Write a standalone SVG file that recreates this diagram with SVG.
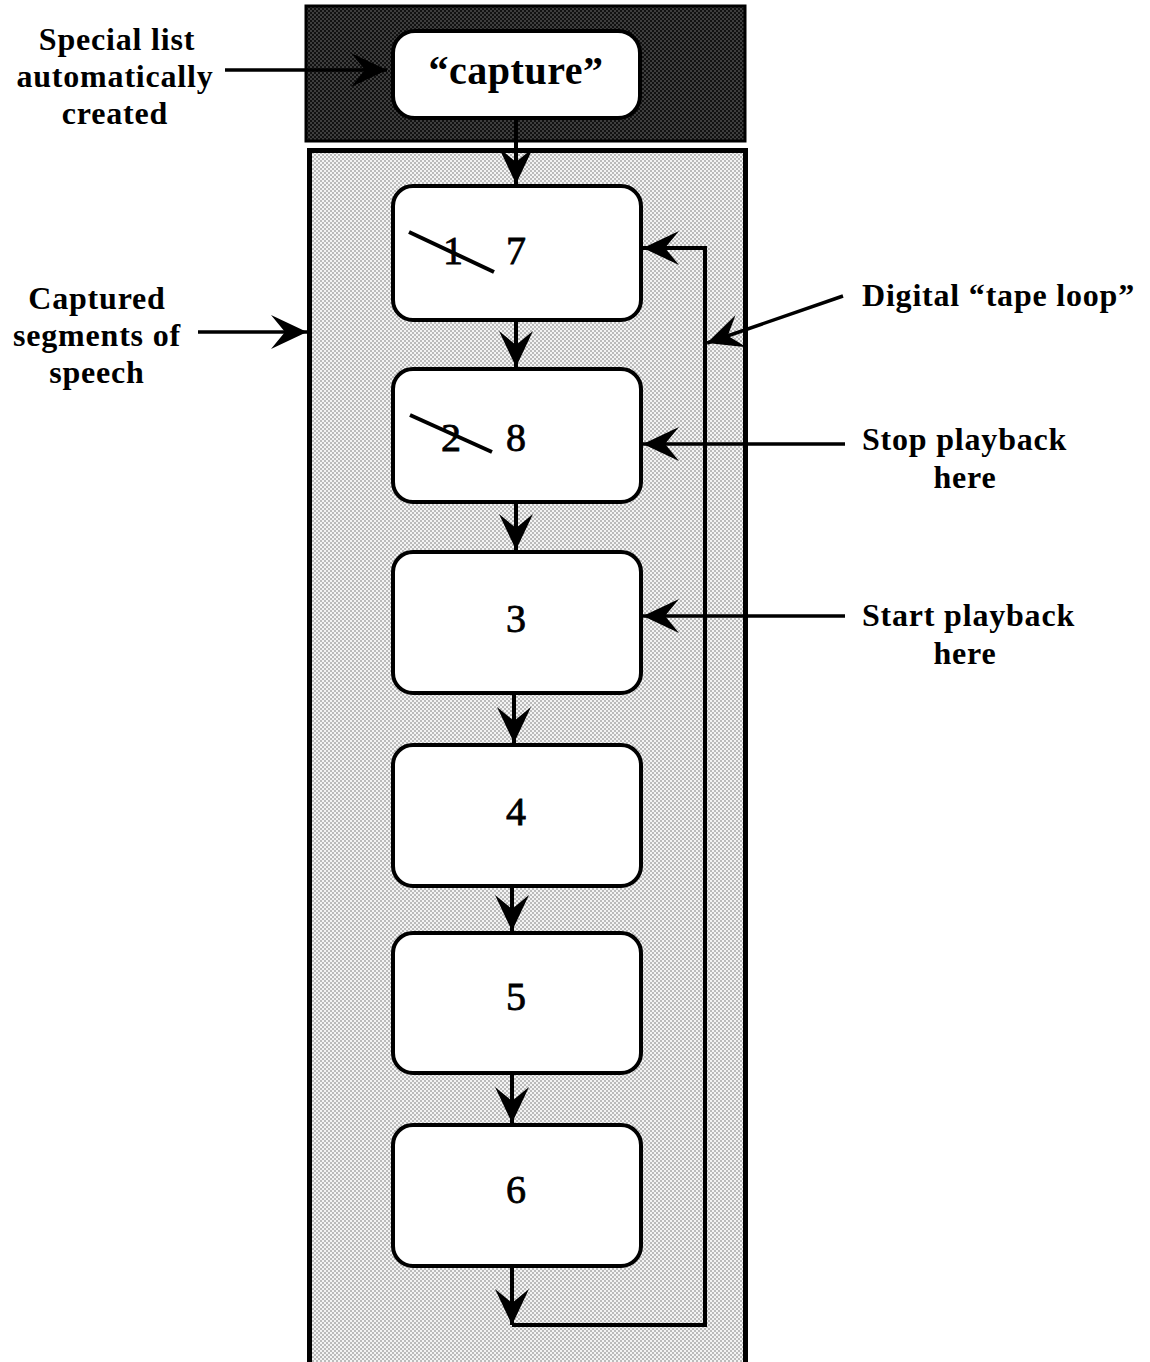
<svg xmlns="http://www.w3.org/2000/svg" width="1150" height="1362" viewBox="0 0 1150 1362">
<defs>
<pattern id="lightDots" width="4" height="4" patternUnits="userSpaceOnUse">
<rect width="4" height="4" fill="#f4f4f4"/>
<circle cx="1" cy="1" r="0.75" fill="#666"/>
<circle cx="3" cy="3" r="0.75" fill="#666"/>
</pattern>
<pattern id="darkDots" width="4" height="4" patternUnits="userSpaceOnUse">
<rect width="4" height="4" fill="#111"/>
<circle cx="1" cy="1" r="0.8" fill="#777"/>
<circle cx="3" cy="3" r="0.8" fill="#777"/>
</pattern>
<marker id="arr" viewBox="-40 -20 42 40" refX="0" refY="0" markerWidth="42" markerHeight="40" markerUnits="userSpaceOnUse" orient="auto">
<path d="M0,0 L-36,-17 L-22,0 L-36,17 Z" fill="#000"/>
</marker>
</defs>
<style>
.lbl{font-family:"Liberation Serif","Times New Roman",serif;font-weight:bold;font-size:32px;letter-spacing:0.8px;fill:#000}
.cap{font-family:"Liberation Serif","Times New Roman",serif;font-weight:bold;font-size:40px;letter-spacing:0.5px;fill:#000}
.num{font-family:"Liberation Serif","Times New Roman",serif;font-size:40px;font-weight:normal;fill:#000;stroke:#000;stroke-width:0.8}
.node{fill:#fff;stroke:#000;stroke-width:4}
.con{fill:none;stroke:#000;stroke-width:4}
.ptr{fill:none;stroke:#000;stroke-width:3.5}
</style>
<rect width="1150" height="1362" fill="#fff"/>
<g id="capture-panel">
<rect x="306" y="6" width="439" height="135" fill="url(#darkDots)" stroke="#000" stroke-width="3"/>
</g>
<g id="segments-panel">
<rect x="309.5" y="150.5" width="436" height="1216" fill="url(#lightDots)" stroke="#000" stroke-width="5"/>
</g>
<g id="node-capture">
<rect class="node" x="393" y="31" width="247" height="87" rx="22"/>
<text class="cap" x="516" y="84" text-anchor="middle">“capture”</text>
</g>
<g id="node-1">
<rect class="node" x="393" y="186" width="248" height="134" rx="20"/>
<text class="num" x="453" y="264" text-anchor="middle">1</text>
<line x1="409" y1="232" x2="494" y2="272" stroke="#000" stroke-width="4"/>
<text class="num" x="516" y="264" text-anchor="middle">7</text>
</g>
<g id="node-2">
<rect class="node" x="393" y="369" width="248" height="133" rx="20"/>
<text class="num" x="451" y="451" text-anchor="middle">2</text>
<line x1="410" y1="415" x2="492" y2="452" stroke="#000" stroke-width="4"/>
<text class="num" x="516" y="451" text-anchor="middle">8</text>
</g>
<g id="node-3">
<rect class="node" x="393" y="552" width="248" height="141" rx="20"/>
<text class="num" x="516" y="632" text-anchor="middle">3</text>
</g>
<g id="node-4">
<rect class="node" x="393" y="745" width="248" height="141" rx="20"/>
<text class="num" x="516" y="825" text-anchor="middle">4</text>
</g>
<g id="node-5">
<rect class="node" x="393" y="933" width="248" height="140" rx="20"/>
<text class="num" x="516" y="1010" text-anchor="middle">5</text>
</g>
<g id="node-6">
<rect class="node" x="393" y="1125" width="248" height="141" rx="20"/>
<text class="num" x="516" y="1203" text-anchor="middle">6</text>
</g>
<g id="label-special">
<text class="lbl" x="117" y="50" text-anchor="middle">Special list</text>
<text class="lbl" x="115" y="87" text-anchor="middle">automatically</text>
<text class="lbl" x="115" y="124" text-anchor="middle">created</text>
</g>
<g id="label-captured">
<text class="lbl" x="97" y="309" text-anchor="middle">Captured</text>
<text class="lbl" x="97" y="346" text-anchor="middle">segments of</text>
<text class="lbl" x="97" y="383" text-anchor="middle">speech</text>
</g>
<g id="label-tape">
<text class="lbl" x="862" y="306">Digital “tape loop”</text>
</g>
<g id="label-stop">
<text class="lbl" x="862" y="450">Stop playback</text>
<text class="lbl" x="965" y="488" text-anchor="middle">here</text>
</g>
<g id="label-start">
<text class="lbl" x="862" y="626">Start playback</text>
<text class="lbl" x="965" y="664" text-anchor="middle">here</text>
</g>
<g id="connectors">
<line class="con" x1="516" y1="118" x2="516" y2="184" stroke-width="3" marker-end="url(#arr)"/>
<line class="con" x1="516" y1="320" x2="516" y2="367" marker-end="url(#arr)"/>
<line class="con" x1="516" y1="502" x2="516" y2="550" marker-end="url(#arr)"/>
<line class="con" x1="514" y1="693" x2="514" y2="743" marker-end="url(#arr)"/>
<line class="con" x1="512" y1="886" x2="512" y2="931" marker-end="url(#arr)"/>
<line class="con" x1="512" y1="1073" x2="512" y2="1123" marker-end="url(#arr)"/>
<line class="con" x1="512" y1="1266" x2="512" y2="1325" marker-end="url(#arr)"/>
<polyline class="con" points="512,1325 705,1325 705,248 643,248" marker-end="url(#arr)"/>
<line class="ptr" x1="225" y1="70" x2="387" y2="70" marker-end="url(#arr)"/>
<line class="ptr" x1="198" y1="332" x2="307" y2="332" marker-end="url(#arr)"/>
<line class="ptr" x1="843" y1="296" x2="707" y2="343" marker-end="url(#arr)"/>
<line class="ptr" x1="845" y1="444" x2="643" y2="444" marker-end="url(#arr)"/>
<line class="ptr" x1="845" y1="616" x2="643" y2="616" marker-end="url(#arr)"/>
</g>
</svg>
